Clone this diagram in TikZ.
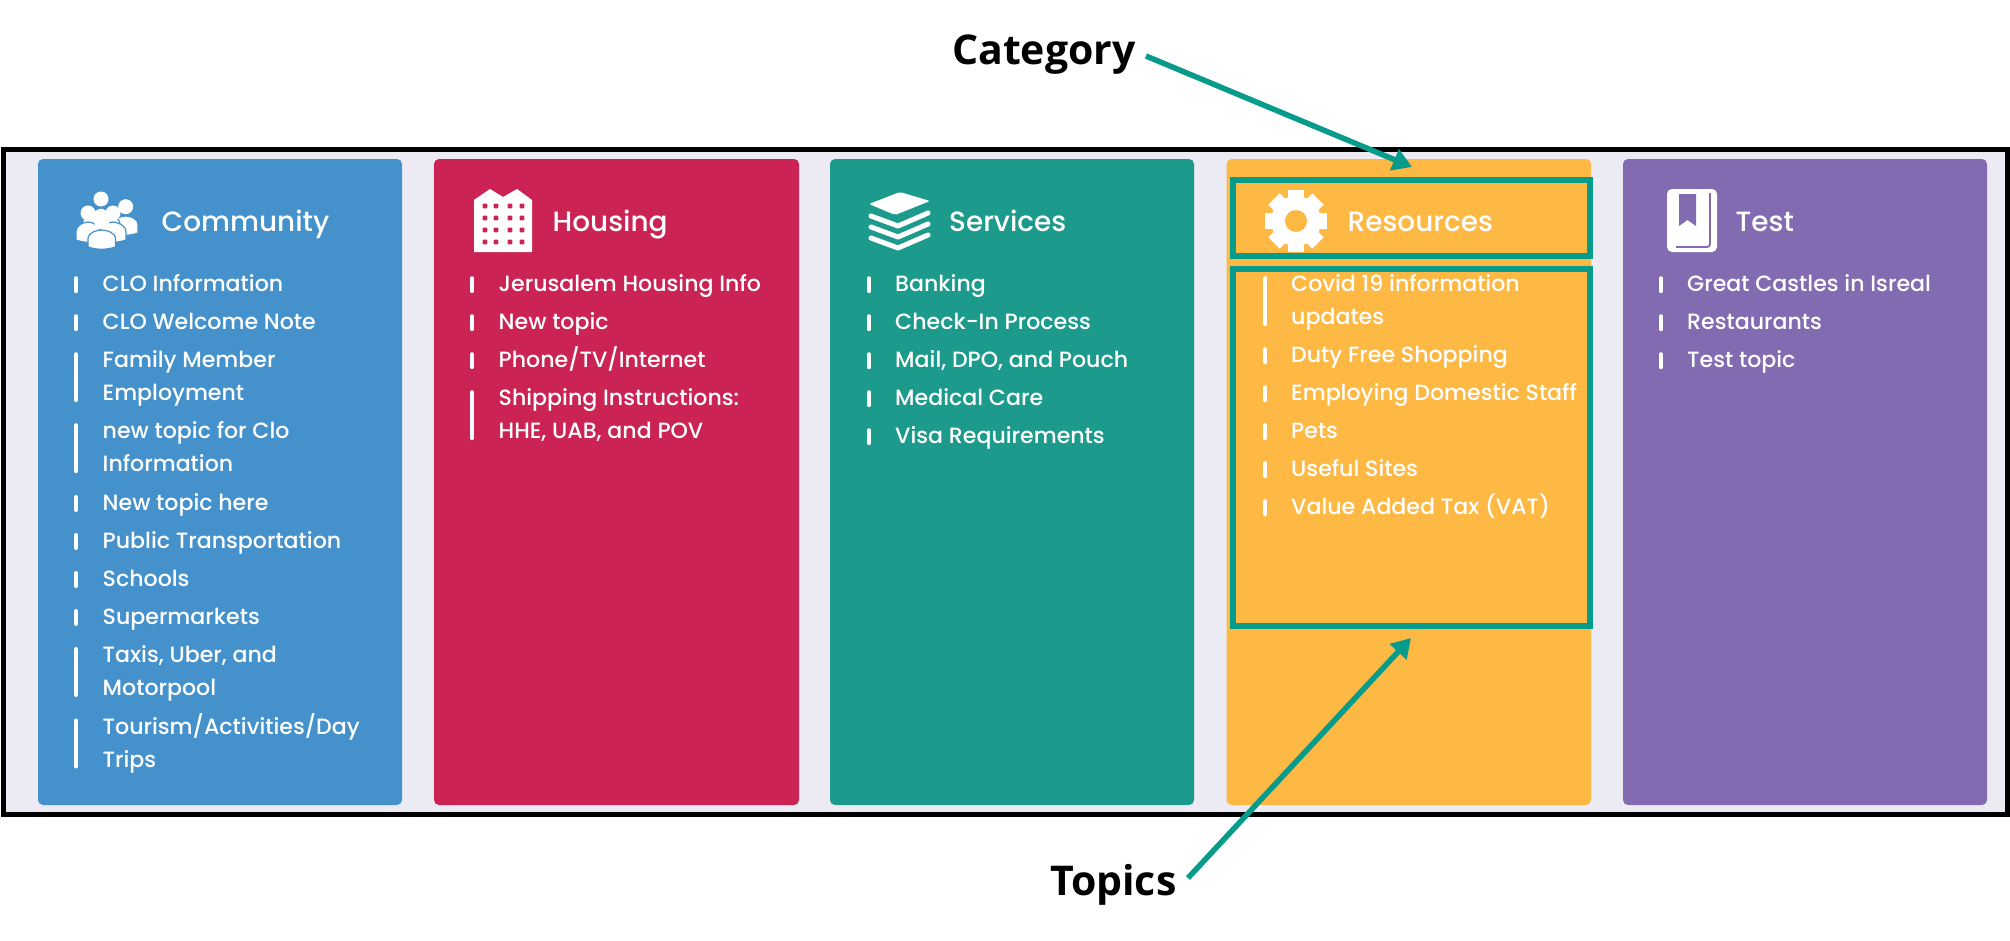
\documentclass[tikz,border=0pt]{standalone}
\usepackage{fontspec}
\setmainfont{Poppins Medium}
\newfontfamily\titlefont{Poppins Medium}
\newfontfamily\notefont{Open Sans}
\usetikzlibrary{arrows.meta}
\definecolor{panelbg}{HTML}{ECEBF3}
\definecolor{cblue}{HTML}{4591CB}
\definecolor{cred}{HTML}{CB2353}
\definecolor{cteal}{HTML}{1C9A8B}
\definecolor{corange}{HTML}{FEB844}
\definecolor{cpurple}{HTML}{836BB2}
\definecolor{note}{HTML}{069B8A}
\tikzset{
  x=1pt,y=-1pt,
  panel/.style={rounded corners=5pt,draw=none},
  topic/.style={anchor=base west,inner sep=0pt,text=white,font=\fontsize{22.1}{33}\selectfont},
  title/.style={anchor=base west,inner sep=0pt,text=white,font=\titlefont\fontsize{27.9}{33}\selectfont},
  notelabel/.style={anchor=base west,inner sep=0pt,text=black,font=\notefont\bfseries\fontsize{41}{44}\selectfont},
  bar/.style={line width=4pt,white,line cap=round},
  notebox/.style={draw=note,line width=6pt},
  notearrow/.style={draw=note,line width=5.5pt,-{Triangle[length=19pt,width=22pt]}},
}
\newcounter{topicno}
% one-line topic: bar x, text x, baseline, text
\newcommand{\oneline}[4]{%
  \stepcounter{topicno}%
  \draw[bar] (#1,#3-13.5) -- (#1,#3-0.5);
  \node[topic] (topic\arabic{topicno}) at (#2,#3) {#4};}
% two-line topic
\newcommand{\twoline}[5]{%
  \stepcounter{topicno}%
  \draw[bar] (#1,#3-13.5) -- (#1,#3+32.5);
  \node[topic] (topic\arabic{topicno}) at (#2,#3) {\parbox[t]{290pt}{\raggedright\fontsize{22.1}{33}\selectfont #4\\#5}};}
\newcommand{\person}[6]{% head x,y; body top; body left,right; bottom
  \fill[white,draw=cblue,line width=1.2pt] (#4,#6) -- (#4,#6-8) .. controls (#4,#6-15) and (#1-4,#3) .. (#1,#3) .. controls (#1+4,#3) and (#5,#6-15) .. (#5,#6-8) -- (#5,#6) .. controls (#1+4,#6+3) and (#1-4,#6+3) .. (#4,#6) -- cycle;
  \fill[white] (#1,#2) circle[radius=7.5pt];}
\begin{document}
\begin{tikzpicture}
\useasboundingbox (0,0) rectangle (2010,940);
\fill[white] (0,0) rectangle (2010,940);
\fill[panelbg] (3,150) rectangle (2007,814);
\draw[black,line width=5pt] (3,149.5) rectangle (2007,814.5);

\fill[panel,fill=cblue]   (38,159) rectangle (402,805);
\fill[panel,fill=cred]    (434,159) rectangle (799,805);
\fill[panel,fill=cteal]   (830,159) rectangle (1194,805);
\fill[panel,fill=corange] (1226.5,159) rectangle (1591,805);
\fill[panel,fill=cpurple] (1623,159) rectangle (1987,805);

% Titles
\node[title] (tcommunity) at (161.5,231) {Community};
\node[title] (thousing) at (552.5,231) {Housing};
\node[title] (tservices) at (949,231) {Services};
\node[title] (tresources) at (1347.5,231) {Resources};
\node[title] (ttest) at (1735.5,231) {Test};

% Community topics
\oneline{76}{102.5}{291.7}{CLO Information}
\oneline{76}{102.5}{329.7}{CLO Welcome Note}
\twoline{76}{102.5}{367.7}{Family Member}{Employment}
\twoline{76}{102.5}{438.7}{new topic for Clo}{Information}
\oneline{76}{102.5}{510.5}{New topic here}
\oneline{76}{102.5}{548.5}{Public Transportation}
\oneline{76}{102.5}{586.5}{Schools}
\oneline{76}{102.5}{624.5}{Supermarkets}
\twoline{76}{102.5}{662.5}{Taxis, Uber, and}{Motorpool}
\twoline{76}{102.5}{734}{Tourism/Activities/Day}{Trips}

% Housing topics
\oneline{472}{498.5}{291.7}{Jerusalem Housing Info}
\oneline{472}{498.5}{329.7}{New topic}
\oneline{472}{498.5}{367.7}{Phone/TV/Internet}
\twoline{472}{498.5}{405.7}{Shipping Instructions:}{HHE, UAB, and POV}

% Services topics
\oneline{869}{895}{291.7}{Banking}
\oneline{869}{895}{329.7}{Check-In Process}
\oneline{869}{895}{367.7}{Mail, DPO, and Pouch}
\oneline{869}{895}{405.7}{Medical Care}
\oneline{869}{895}{443.7}{Visa Requirements}

% Resources topics
\twoline{1265}{1291}{291.7}{Covid 19 information}{updates}
\oneline{1265}{1291}{362.7}{Duty Free Shopping}
\oneline{1265}{1291}{400.7}{Employing Domestic Staff}
\oneline{1265}{1291}{438.7}{Pets}
\oneline{1265}{1291}{476.7}{Useful Sites}
\oneline{1265}{1291}{514.7}{Value Added Tax (VAT)}

% Test topics
\oneline{1661}{1687}{291.7}{Great Castles in Isreal}
\oneline{1661}{1687}{329.7}{Restaurants}
\oneline{1661}{1687}{367.7}{Test topic}

% Community icon
\person{125.7}{206.7}{216}{113}{138}{233}
\person{101}{199}{208}{82}{120}{232}
\person{88}{213}{222}{76}{100}{240}
\person{113}{213}{222}{101}{126}{240}
\person{101.7}{221.7}{230}{88}{115.5}{247}

% Housing icon
\fill[white] (474,252) -- (474,200) -- (490,189) -- (503,197) -- (517,189) -- (532,200) -- (532,252) -- cycle;
\foreach \cx in {485,496,510,522}
  \foreach \cy in {206,218,230,242}
    \fill[cred,rounded corners=1pt] (\cx-2.4,\cy-2.4) rectangle (\cx+2.4,\cy+2.4);

% Services icon
\fill[white,rounded corners=2pt] (869,204) -- (900,192) -- (930,201) -- (895,215) -- cycle;
\foreach \dy in {0,11,22}
  \draw[white,line width=5pt,line cap=round,line join=round] (871,216+\dy) -- (898,226+\dy) -- (928,213+\dy);

% Resources icon
\foreach \ang in {0,45,...,315}
  \fill[white,rotate around={\ang:(1296,221)}] (1288,190) rectangle (1304,205);
\fill[white] (1296,221) circle[radius=25pt];
\fill[corange] (1296,221) circle[radius=11pt];

% Test icon
\fill[white,rounded corners=5pt] (1667,189) rectangle (1717,252);
\draw[cpurple,line width=1.8pt,rounded corners=3pt] (1676,247) -- (1710,247) -- (1710,193);
\fill[white] (1711,247.5) rectangle (1712.5,252);
\fill[cpurple] (1679,194) -- (1696,194) -- (1696,226) -- (1687.5,220) -- (1679,226) -- cycle;

% Annotations
\draw[notebox] (1233,180) rectangle (1590,256);
\draw[notebox] (1233,269) rectangle (1590,626);
\node[notelabel] (lcategory) at (952,64) {Category};
\node[notelabel] (ltopics) at (1050,895) {Topics};
\coordinate (catstart) at (1146,56);
\coordinate (cattip) at (1412,167);
\coordinate (topstart) at (1188,878);
\coordinate (toptip) at (1411,638);
\draw[notearrow] (catstart) -- (cattip);
\draw[notearrow] (topstart) -- (toptip);
\end{tikzpicture}
\end{document}
